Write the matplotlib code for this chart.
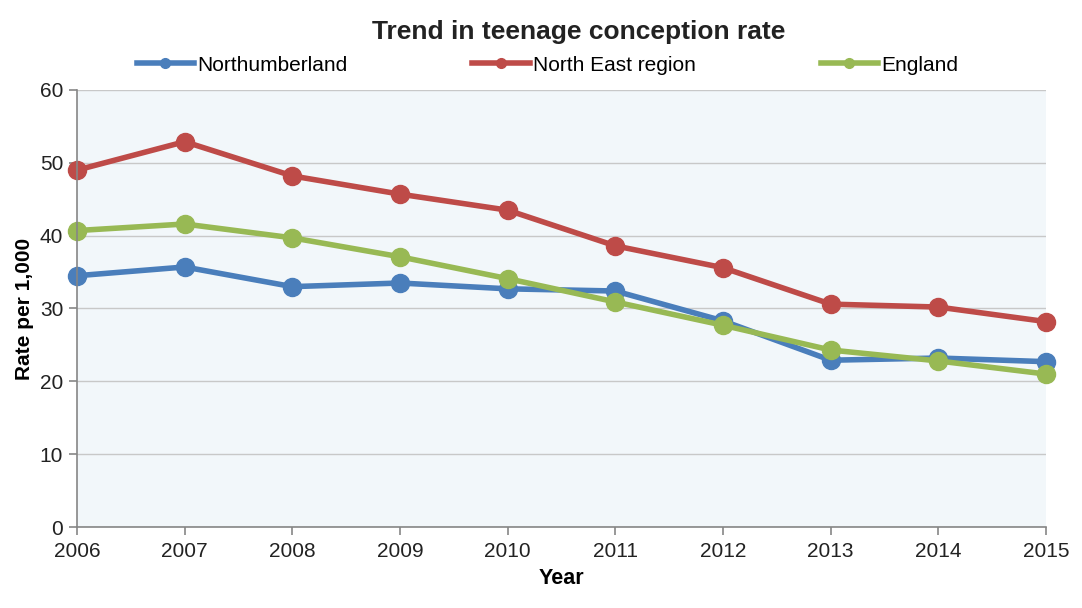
from matplotlib import pyplot as plt

plt.rcParams['font.family'] = ['Liberation Sans', 'DejaVu Sans']

years = [2006, 2007, 2008, 2009, 2010, 2011, 2012, 2013, 2014, 2015]
northumberland = [34.5, 35.7, 33.0, 33.5, 32.7, 32.4, 28.3, 22.9, 23.2, 22.7]
north_east = [49.0, 52.9, 48.2, 45.7, 43.5, 38.6, 35.6, 30.6, 30.2, 28.2]
england = [40.7, 41.6, 39.7, 37.1, 34.1, 30.9, 27.7, 24.3, 22.8, 21.0]

series = [
    ("Northumberland", northumberland, "#4a7ebb"),
    ("North East region", north_east, "#be4b48"),
    ("England", england, "#98b954"),
]

fig = plt.figure(figsize=(10.82, 6.08), dpi=100)
ax = fig.add_axes([0.0712, 0.1332, 0.8955, 0.7188])
ax.set_facecolor("#f2f7fa")

for name, values, colour in series:
    ax.plot(years, values, color=colour, linewidth=4, marker="o", markersize=13,
            label=name, solid_capstyle="round", clip_on=False)

ax.set_xlim(2006, 2015)
ax.set_ylim(0, 60)
ax.set_xticks(years)
ax.set_yticks(range(0, 61, 10))
ax.yaxis.grid(True, color="#c8c8c8", linewidth=1)
ax.set_axisbelow(True)
for side in ["top", "right"]:
    ax.spines[side].set_visible(False)
for side in ["left", "bottom"]:
    ax.spines[side].set_color("#868686")
    ax.spines[side].set_linewidth(1.2)
ax.tick_params(colors="#868686", labelcolor="#222222", labelsize=15, length=6, width=1.2)
ax.tick_params(axis="x", pad=5)
ax.tick_params(axis="y", pad=4)

ax.set_xlabel("Year", fontsize=15.5, fontweight="bold", labelpad=5)
ax.set_ylabel("Rate per 1,000", fontsize=15, fontweight="bold", labelpad=4)

fig.text(0.535, 0.947, "Trend in teenage conception rate", ha="center", va="center",
         fontsize=19, fontweight="bold", color="#222222")

handles = [plt.Line2D([], [], color=c, linewidth=4, marker="o", markersize=7) for _, _, c in series]
fig.legend(handles, [s[0] for s in series], loc="center", bbox_to_anchor=(0.506, 0.893),
           ncol=3, frameon=False, fontsize=15, handlelength=2.75, columnspacing=6.0,
           handletextpad=0.15)

fig.savefig("out.png", dpi=100)
